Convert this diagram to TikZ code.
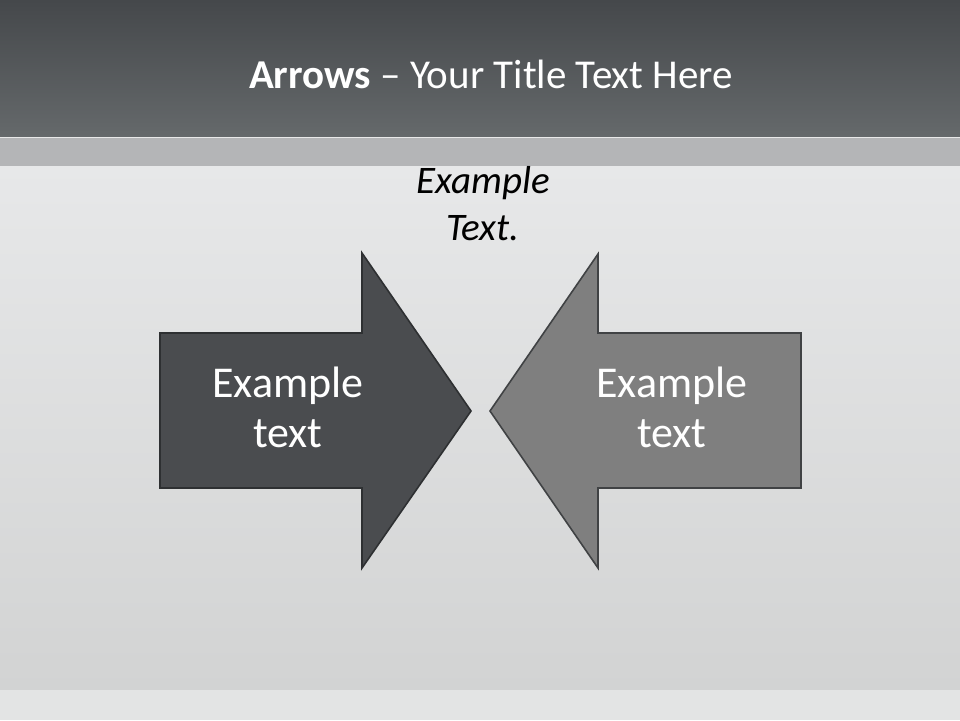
\documentclass[tikz,border=0pt]{standalone}
\usepackage{fontspec}
\setmainfont{Carlito}
\definecolor{bandtop}{HTML}{45484B}
\definecolor{bandbot}{HTML}{65696B}
\definecolor{stripe}{HTML}{B4B5B7}
\definecolor{bgtop}{HTML}{E7E8E9}
\definecolor{bgbot}{HTML}{D2D3D3}
\definecolor{floor}{HTML}{E3E4E4}
\definecolor{darkfill}{HTML}{4A4C4F}
\definecolor{midfill}{HTML}{7F7F7F}
\definecolor{edge}{HTML}{2E3032}
\definecolor{edge2}{HTML}{404244}
\tikzset{
  arrowshape/.style={line width=1.6pt, line join=miter},
  label/.style={text=white, align=center, font=\fontsize{44}{50}\selectfont},
}
\begin{document}
\begin{tikzpicture}[x=1pt,y=-1pt]
\useasboundingbox (0,0) rectangle (960,720);
% background
\shade[top color=bandtop, bottom color=bandbot] (0,0) rectangle (960,137);
\fill[stripe] (0,137) rectangle (960,166);
\draw[white!70!stripe, line width=0.8pt] (0,137.4) -- (960,137.4);
\shade[top color=bgtop, bottom color=bgbot] (0,166) rectangle (960,690);
\fill[floor] (0,690) rectangle (960,720);
% title
\node[text=white, font=\fontsize{41}{48}\selectfont, anchor=base] (title) at (491,88) {\textbf{Arrows} – Your Title Text Here};
% top text
\node[font=\fontsize{39}{47}\selectfont\itshape, align=center, anchor=base] (top) at (483,240) {Example\\Text.};
% left arrow
\draw[arrowshape, fill=darkfill, draw=edge] (160,333) -- (362,333) -- (362,253) -- (471,411) -- (362,568) -- (362,488) -- (160,488) -- cycle;
\node[label, anchor=base] (leftlabel) at (288,447) {Example\\text};
% right arrow
\draw[arrowshape, fill=midfill, draw=edge2] (801,333) -- (598,333) -- (598,254) -- (490,411) -- (598,568) -- (598,488) -- (801,488) -- cycle;
\node[label, anchor=base] (rightlabel) at (672,447) {Example\\text};
\end{tikzpicture}
\end{document}
